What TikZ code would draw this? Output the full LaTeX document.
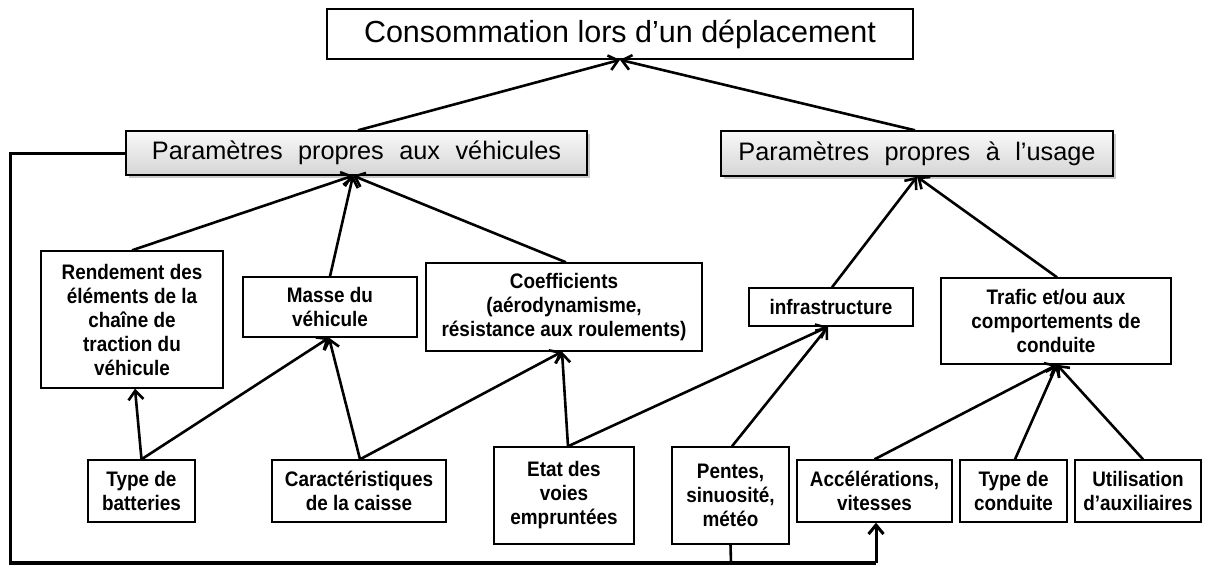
\documentclass[tikz,border=0pt]{standalone}
\usepackage{fontspec}
\setmainfont{Liberation Sans}
\newfontfamily\cfont[FakeStretch=0.9]{Liberation Sans}
\newfontfamily\hfont[WordSpace=2.2]{Liberation Sans}
\usetikzlibrary{arrows.meta,shadows}
\begin{document}
\begin{tikzpicture}[x=1pt,y=-1pt,
  box/.style={draw=black, line width=1.4pt, fill=white, inner sep=0pt, align=center,
    font=\cfont\bfseries\fontsize{21}{24}\selectfont},
  hdr/.style={draw=black, line width=1.4pt, top color=gray!5, bottom color=gray!33,
    inner sep=0pt, align=center, font=\hfont\fontsize{25.3}{30}\selectfont,
    drop shadow={shadow xshift=2.5pt, shadow yshift=-2.5pt, fill=gray!70, opacity=0.6}},
  topbox/.style={draw=black, line width=1.7pt, fill=white, inner sep=0pt, align=center,
    font=\fontsize{30.5}{36}\selectfont},
  tip/.tip={Straight Barb[length=9pt,width=15pt]},
  conn/.style={line width=2.6pt, -tip},
  plain/.style={line width=2.6pt},
  loopline/.style={line width=3pt}
]
\useasboundingbox (0,0) rectangle (1207,568);

% top
\node[topbox, minimum width=586pt, minimum height=50pt] (top) at (620,34) {Consommation lors d’un déplacement};
% headers
\node[hdr, minimum width=461pt, minimum height=44pt] (veh) at (356.5,153) {Paramètres propres aux véhicules};
\node[hdr, minimum width=392pt, minimum height=45pt] (use) at (917,153.5) {Paramètres propres à l’usage};
% middle
\node[box, minimum width=182pt, minimum height=137pt] (rend) at (132,319.5) {Rendement des\\éléments de la\\chaîne de\\traction du\\véhicule};
\node[box, minimum width=174pt, minimum height=60pt] (masse) at (330,307) {Masse du\\véhicule};
\node[box, minimum width=276pt, minimum height=88pt] (coef) at (564,307) {Coefficients\\(aérodynamisme,\\résistance aux roulements)};
\node[box, minimum width=164pt, minimum height=38pt] (infra) at (831,307) {infrastructure};
\node[box, minimum width=230pt, minimum height=86pt] (trafic) at (1056,321) {Trafic et/ou aux\\comportements de\\conduite};
% bottom
\node[box, minimum width=107pt, minimum height=62pt] (typebat) at (141.5,491) {Type de\\batteries};
\node[box, minimum width=174pt, minimum height=62pt] (carac) at (359,491) {Caractéristiques\\de la caisse};
\node[box, minimum width=140pt, minimum height=97pt] (etat) at (564,495.5) {Etat des\\voies\\empruntées};
\node[box, minimum width=117pt, minimum height=97pt] (pentes) at (730.5,495.5) {Pentes,\\sinuosité,\\météo};
\node[box, minimum width=155pt, minimum height=62pt] (accel) at (874.5,491) {Accélérations,\\vitesses};
\node[box, minimum width=107pt, minimum height=62pt] (typecond) at (1013.5,491) {Type de\\conduite};
\node[box, minimum width=126pt, minimum height=62pt] (util) at (1138,491) {Utilisation\\d’auxiliaires};

% top level connectors
\draw[conn] ([xshift=1.5pt]veh.north) -- (top.south);
\draw[conn] ([xshift=-2pt]use.north) -- (top.south);
% vehicle
\draw[conn] (rend.north) -- ([xshift=-3.5pt]veh.south);
\draw[conn] (masse.north) -- ([xshift=-3.5pt]veh.south);
\draw[conn] ([xshift=2pt]coef.north) -- ([xshift=-3.5pt]veh.south);
% usage
\draw[conn] ([xshift=1pt]infra.north) -- (use.south);
\draw[conn] ([xshift=1pt]trafic.north) -- (use.south);
% bottom to middle
\draw[conn] (typebat.north) -- ([xshift=3pt]rend.south);
\draw[conn] (typebat.north) -- ([xshift=-1pt]masse.south);
\draw[conn] ([xshift=1pt]carac.north) -- ([xshift=-1pt]masse.south);
\draw[conn] ([xshift=1pt]carac.north) -- ([xshift=-2pt]coef.south);
\draw[conn] ([xshift=4pt]etat.north) -- ([xshift=-2pt]coef.south);
\draw[conn] ([xshift=4pt]etat.north) -- ([xshift=-3pt]infra.south);
\draw[conn] ([xshift=1.5pt]pentes.north) -- ([xshift=-3pt]infra.south);
\draw[conn] (accel.north) -- ([xshift=1pt]trafic.south);
\draw[conn] ([xshift=1.5pt]typecond.north) -- ([xshift=1pt]trafic.south);
\draw[conn] ([xshift=5pt]util.north) -- ([xshift=1pt]trafic.south);

% feedback loop
\coordinate (lpa) at (10,153);
\coordinate (lpb) at (10,563);
\coordinate (lpc) at (876,563);
\coordinate (lpd) at (731,563);
\draw[loopline, line join=miter] (veh.west) -- (lpa) -- (lpb) -- (lpc);
\draw[line width=4pt] (lpb) -- (lpc);
\draw[plain] (pentes.south) -- (lpd);
\draw[line width=3pt, -tip] (lpc) -- ([xshift=1.5pt]accel.south);
\end{tikzpicture}
\end{document}
